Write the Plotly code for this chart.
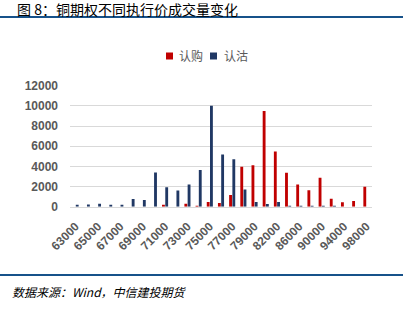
import plotly.graph_objects as go

strikes = ["63000","64000","65000","66000","67000","68000","69000","70000","71000",
           "72000","73000","74000","75000","76000","77000","78000","79000","80000",
           "82000","84000","86000","88000","90000","92000","94000","96000","98000"]
calls = [0,0,0,0,0,0,0,0,100,0,300,80,470,370,1170,3970,4100,9500,
         5470,3370,2200,1630,2870,800,430,570,1970]
puts = [170,230,300,200,100,770,670,3400,1930,1600,2200,3630,10000,5170,4700,1700,470,280,
        470,70,70,30,70,30,0,0,0]
yticks = [0,2000,4000,6000,8000,10000,12000]
tick_labels = strikes[::2]
series_names = ["认购", "认沽"]
series_colors = ["#C00000", "#203864"]

W, H = 408, 311
def py(p):
    return 1 - p / H
def px(p):
    return p / W

fig = go.Figure()
for name, vals, col in zip(series_names, [calls, puts], series_colors):
    fig.add_trace(go.Bar(name=name, x=strikes, y=vals, marker_color=col,
                         marker_line_width=0, showlegend=False))

fig.update_layout(
    template="none",
    width=W, height=H,
    margin=dict(l=0, r=0, t=0, b=0, pad=0),
    paper_bgcolor="white", plot_bgcolor="white",
    barmode="group", bargap=0.42, bargroupgap=0.12,
    font=dict(family="Liberation Sans, Arial", color="#595959"),
    showlegend=False,
    xaxis=dict(domain=[px(70), px(372)], type="category", automargin=False,
               tickmode="array", tickvals=tick_labels, ticktext=tick_labels,
               tickangle=-45, showgrid=False, showline=True, linecolor="#D9D9D9",
               linewidth=1, ticks="", ticklabelstandoff=7, zeroline=False,
               tickfont=dict(size=12, color="#595959", weight="bold")),
    yaxis=dict(domain=[py(206.7), py(85.7)], range=[0, 12000], automargin=False,
               tickmode="array", tickvals=yticks, ticktext=[str(v) for v in yticks],
               showgrid=True, gridcolor="#D9D9D9", gridwidth=1, zeroline=False,
               showline=False, ticks="", ticklabelstandoff=11,
               tickfont=dict(size=12, color="#595959", weight="bold")),
)

# legend (custom, compact like the original)
leg_items = [(166, 177), (210, 222)]
for (sx, tx), name, col in zip(leg_items, series_names, series_colors):
    fig.add_shape(type="rect", xref="paper", yref="paper",
                  x0=px(sx), x1=px(sx + 7), y0=py(59.5), y1=py(52.5),
                  fillcolor=col, line=dict(width=0))
    fig.add_annotation(text=name, xref="paper", yref="paper", x=px(tx), y=py(56),
                       xanchor="left", yanchor="middle", showarrow=False,
                       font=dict(size=12, color="#595959", family="Noto Sans CJK SC"))

fig.add_annotation(text="图 8：铜期权不同执行价成交量变化", xref="paper", yref="paper",
                   x=px(16), y=1, xanchor="left", yanchor="top", showarrow=False,
                   yshift=2, borderpad=0,
                   font=dict(size=14, color="#000000", family="Noto Sans CJK SC"))
fig.add_annotation(text="<i>数据来源：Wind，中信建投期货</i>", xref="paper", yref="paper",
                   x=px(10), y=py(291), xanchor="left", yanchor="middle", showarrow=False,
                   font=dict(size=12, color="#000000", family="Noto Sans CJK SC"))

for yy in (17, 275):
    fig.add_shape(type="line", xref="paper", yref="paper", x0=0, x1=px(403),
                  y0=py(yy), y1=py(yy), line=dict(color="#17528A", width=2))

fig.write_html("out.html")
